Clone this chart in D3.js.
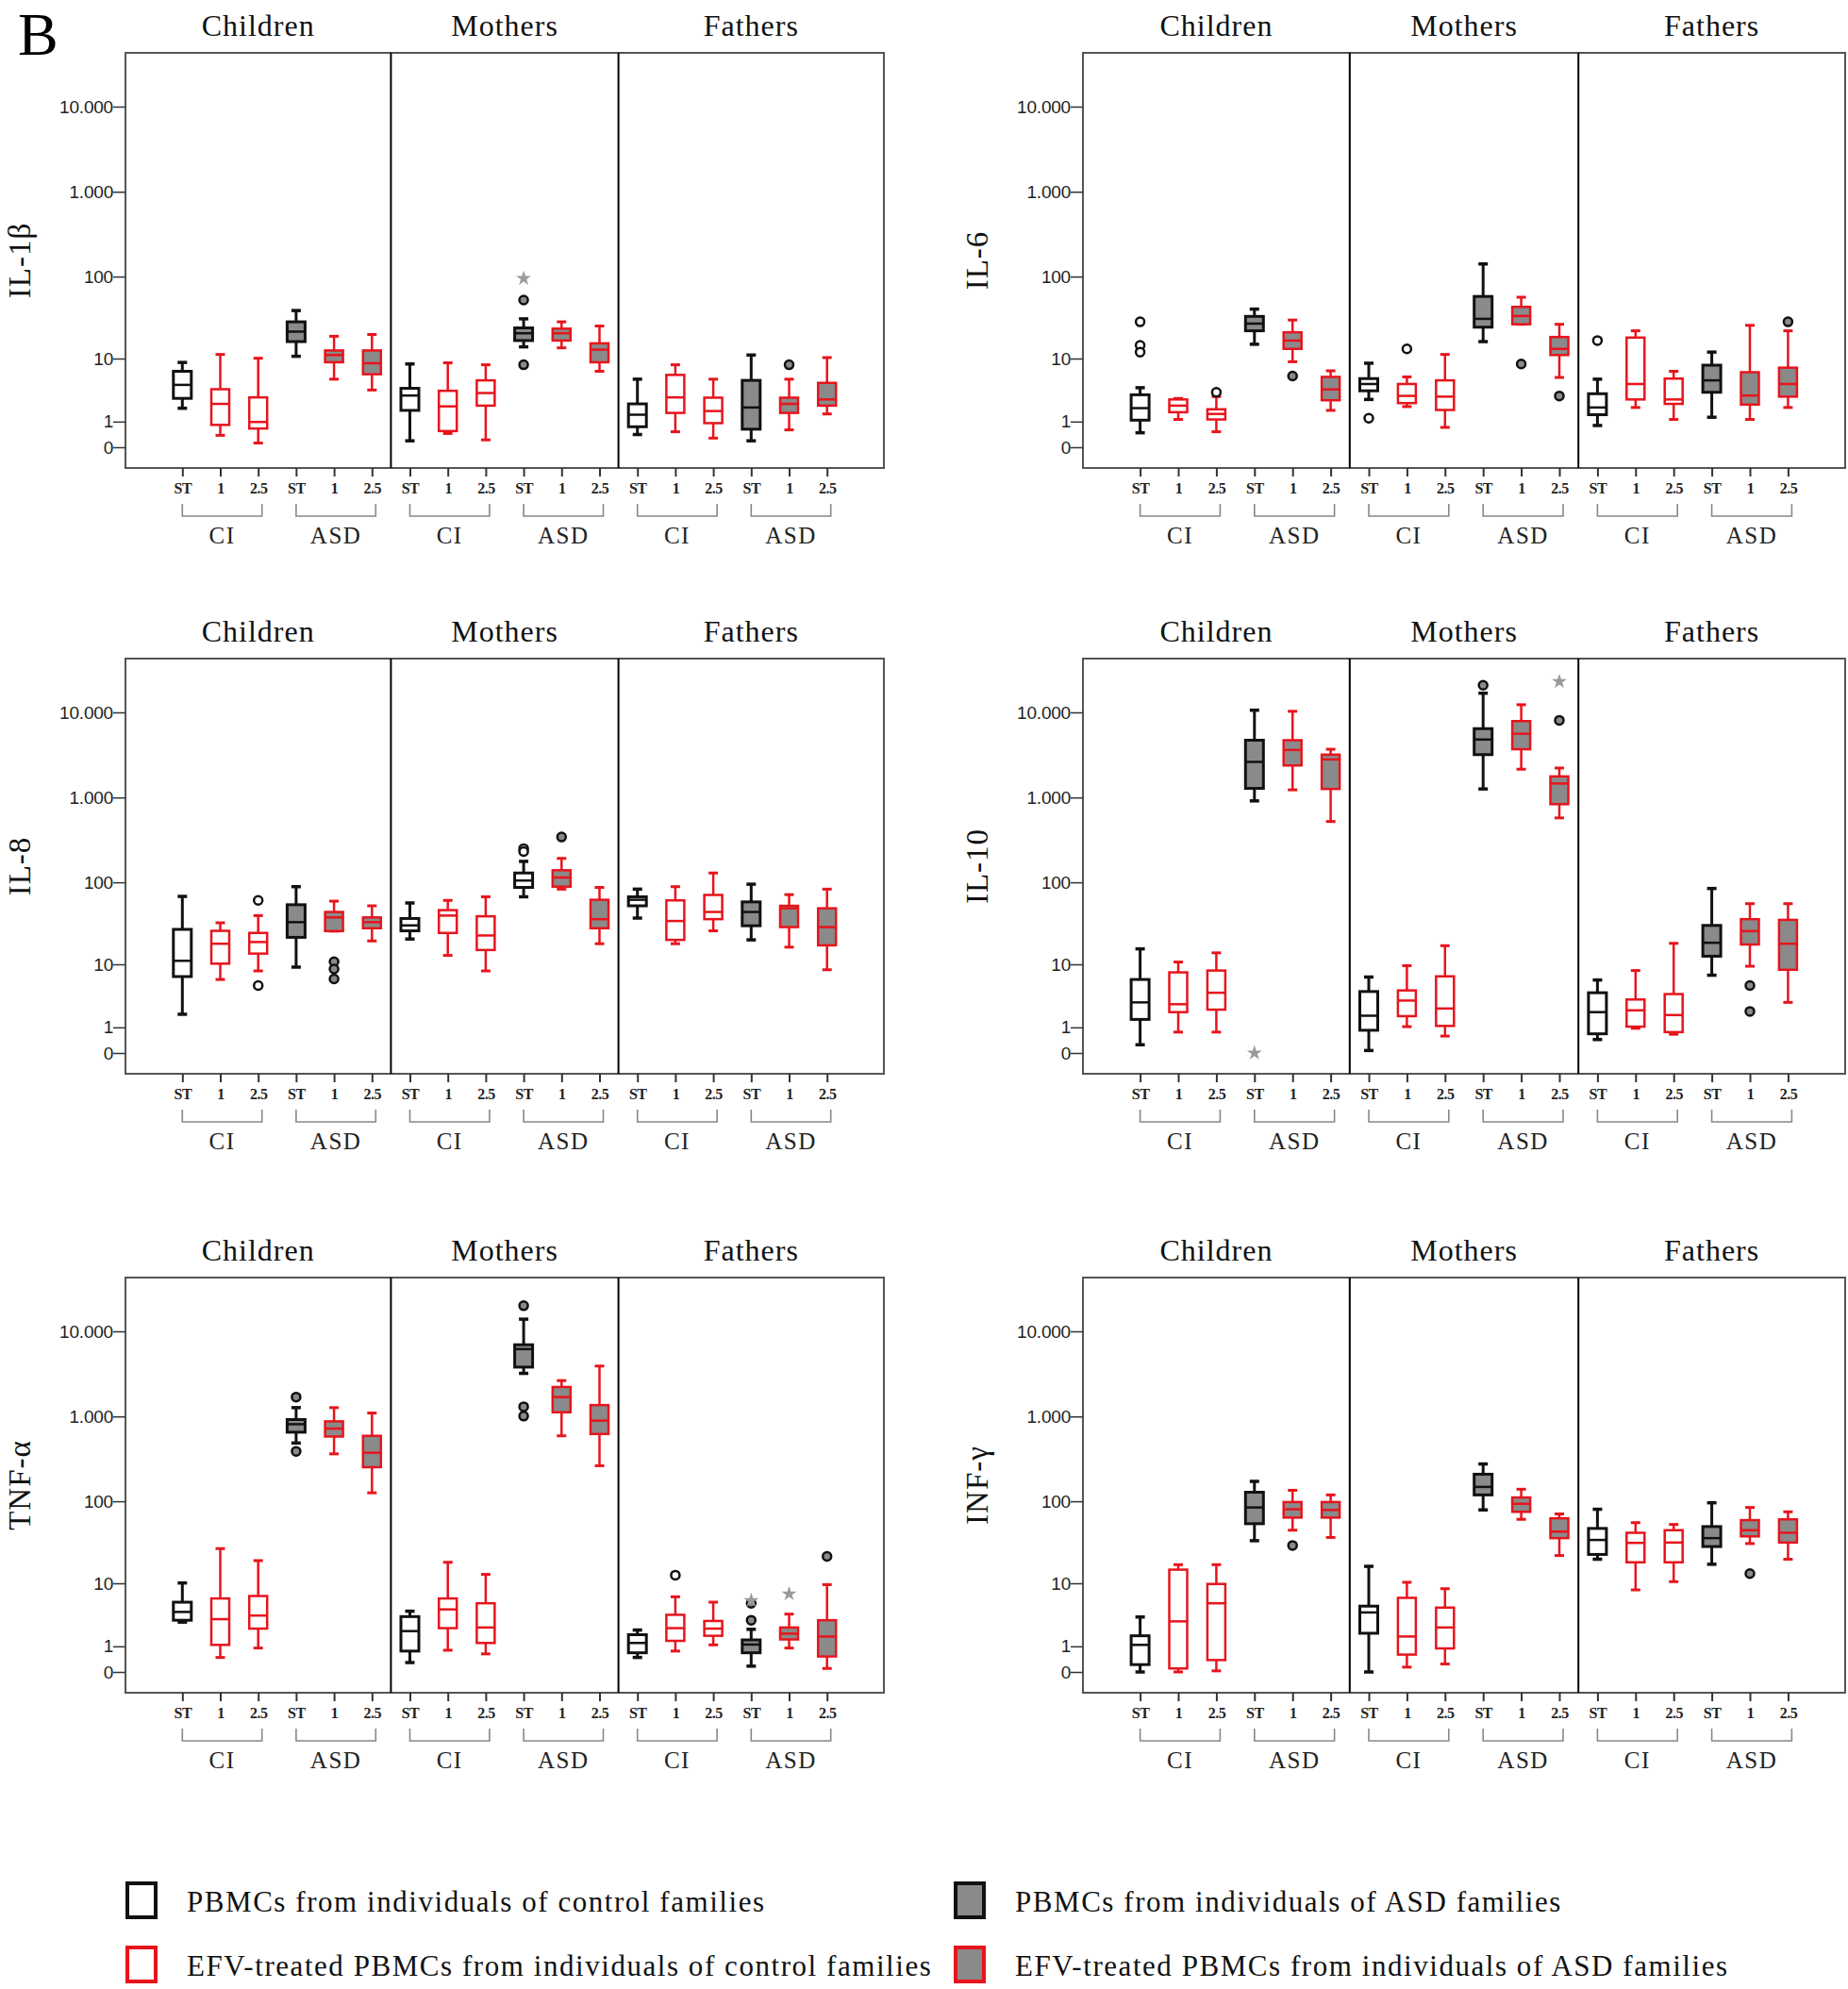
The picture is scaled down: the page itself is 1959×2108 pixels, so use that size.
<!DOCTYPE html>
<html><head><meta charset="utf-8">
<script src="https://cdn.jsdelivr.net/npm/d3@7"></script>
<style>body{margin:0;background:#fff} svg{display:block}</style>
</head><body><svg id="chart" width="1959" height="2108"></svg>
<script>
// ---------- data ----------
const cytokines = ["IL-1β", "IL-6", "IL-8", "IL-10", "TNF-α", "INF-γ"];
const families = ["Children", "Mothers", "Fathers"];
const groups = ["CI", "ASD"];
const treatments = ["ST", "1", "2.5"];
const yTickValues = [0, 1, 10, 100, 1000, 10000];
const yTickLabels = ["0", "1", "10", "100", "1.000", "10.000"];
const legendLabels = [
  "PBMCs from individuals of control families",
  "PBMCs from individuals of ASD families",
  "EFV-treated PBMCs from individuals of control families",
  "EFV-treated PBMCs from individuals of ASD families"
];

// each row: [lower whisker, Q1, median, Q3, upper whisker]; order:
// Children CI ST,1,2.5 | Children ASD ST,1,2.5 | Mothers ... | Fathers ...
const il1b = [
  [1.87, 2.75, 4.4, 6.8, 8.9], [0.38, 0.83, 2.23, 3.8, 11.3], [0.12, 0.66, 0.98, 2.85, 10.1],
  [10.7, 16.4, 21.8, 28.7, 39.3], [5.3, 8.95, 11.1, 12.7, 19.1], [3.7, 6.2, 8.7, 12.7, 20.1],
  [0.19, 1.71, 3.05, 3.92, 8.5], [0.45, 0.55, 2.02, 3.6, 8.8], [0.22, 2.08, 3.33, 5.1, 8.3],
  [14.1, 16.9, 20.8, 24.2, 31.2], [13.7, 16.9, 20.8, 23.7, 28.7], [6.8, 8.95, 13.0, 15.6, 25.5],
  [0.41, 0.74, 1.41, 2.23, 5.3], [0.52, 1.53, 2.85, 6.07, 8.3], [0.28, 0.92, 1.66, 2.82, 5.3],
  [0.19, 0.63, 1.93, 5.1, 11.1], [0.6, 1.53, 2.23, 2.82, 5.3], [1.46, 2.08, 2.64, 4.7, 10.3]
];
const il6 = [
  [0.48, 1.08, 1.88, 3.13, 4.0], [1.12, 1.58, 2.08, 2.64, 2.74], [0.52, 1.12, 1.46, 1.79, 2.93],
  [15.2, 22.3, 27.3, 33.4, 40.9], [9.1, 13.3, 16.9, 21.4, 30.2], [1.71, 2.56, 3.78, 5.7, 6.9],
  [2.64, 3.6, 4.53, 5.4, 8.7], [2.0, 2.3, 3.01, 4.53, 5.7], [0.71, 1.74, 2.93, 5.1, 11.3],
  [16.4, 24.7, 31.2, 58, 141], [26.8, 26.8, 33.8, 43.5, 56.8], [5.6, 11.1, 13.3, 18.7, 26.8],
  [0.8, 1.41, 1.93, 3.25, 5.3], [1.93, 2.64, 4.53, 18.4, 22.3], [1.12, 2.23, 2.64, 5.4, 6.8],
  [1.25, 3.42, 5.1, 8.2, 12.1], [1.12, 2.17, 3.05, 6.6, 26.0], [1.93, 2.93, 4.53, 7.6, 22.3]
];
const il8 = [
  [1.85, 6.9, 11.1, 27.3, 68], [6.3, 10.2, 18.2, 26.2, 32.8], [8.2, 13.7, 19.1, 24.7, 40.1],
  [9.2, 21.8, 33.4, 54.1, 88.8], [26, 26, 38.1, 44.3, 59.7], [19.7, 28.2, 33.4, 38.1, 52.5],
  [20.8, 26.2, 30.5, 37, 56.8], [13.0, 24.7, 40.1, 46.6, 61], [8.2, 15.2, 23, 39.3, 67.3],
  [67.3, 87, 105, 129, 177], [83, 88.8, 114, 139, 192], [18.2, 28.2, 36.3, 62, 87],
  [37.4, 52.5, 62, 67.3, 83], [18.2, 20.3, 34.5, 61, 88.8], [26.2, 36.3, 44.3, 70.8, 129],
  [20.3, 30.2, 44.3, 58.5, 95], [16.5, 29.1, 49, 52.5, 71.4], [8.5, 17.4, 29.1, 49, 83]
];
const il10 = [
  [0.25, 1.48, 2.93, 6.3, 15.7], [0.76, 2.02, 2.74, 7.85, 10.7], [0.76, 2.23, 4.1, 8.3, 14.0],
  [912, 1280, 2620, 4710, 10600], [1230, 2380, 3620, 4710, 10300], [522, 1260, 2800, 3190, 3690],
  [0.07, 0.85, 1.74, 4.27, 6.8], [1.04, 1.71, 3.13, 4.43, 9.6], [0.58, 1.08, 2.33, 6.95, 17.2],
  [1260, 3190, 4800, 6440, 16800], [2150, 3690, 5610, 7900, 12300], [575, 835, 1460, 1770, 2220],
  [0.44, 0.68, 2.02, 4.1, 6.2], [0.95, 1.04, 2.17, 3.25, 8.3], [0.66, 0.76, 1.79, 3.92, 18.4],
  [7.2, 12.7, 18.7, 30.5, 84.5], [9.45, 17.8, 26, 36.3, 55.7], [2.93, 8.5, 18.2, 35.6, 55.7]
];
const tnfa = [
  [2.85, 3.05, 4.07, 5.6, 10.1], [0.48, 1.08, 3.17, 6.3, 27.1], [0.91, 2.23, 3.6, 6.8, 19.3],
  [487, 653, 811, 920, 1270], [363, 581, 720, 876, 1270], [126, 253, 374, 592, 1097],
  [0.29, 0.76, 2.02, 3.47, 4.17], [0.8, 2.27, 4.43, 6.3, 18.4], [0.63, 1.19, 2.33, 5.41, 13.0],
  [3210, 3800, 6190, 6960, 13900], [592, 1120, 1690, 2220, 2640], [263, 622, 893, 1360, 3910],
  [0.48, 0.68, 1.19, 1.74, 2.11], [0.76, 1.32, 2.27, 3.69, 6.64], [1.08, 1.66, 2.23, 2.97, 5.6],
  [0.17, 0.68, 1.1, 1.38, 2.17], [0.91, 1.41, 1.82, 2.33, 3.78], [0.1, 0.52, 1.61, 3.05, 9.6]
];
const infg = [
  [0, 0.22, 1.08, 1.66, 3.42], [0, 0.1, 2.93, 14.9, 17.2], [0.03, 0.38, 5.41, 9.8, 17.2],
  [33.8, 54.1, 84.5, 128, 172], [45.2, 64, 80.4, 98, 135], [37, 64, 78.8, 98, 119],
  [0, 1.85, 4.0, 4.93, 16.4], [0.14, 0.6, 1.61, 6.42, 10.3], [0.24, 0.89, 2.33, 4.7, 8.5],
  [79, 119, 148, 209, 276], [61, 75, 93.4, 111, 139], [22.3, 36.3, 43.5, 62.8, 70.8],
  [20.1, 23, 34.5, 47.5, 80.4], [8.2, 18.4, 31.8, 42.1, 55.7], [10.5, 18.4, 32.1, 45.2, 53],
  [17.4, 28.7, 36.3, 50, 96], [31.2, 38.1, 45.2, 59.7, 84.5], [20.1, 32.1, 42.1, 61, 75]
];

// outliers: [box index, value, kind]  kind "o" = circle, "*" = extreme
const il1bOut = [[9, 52.5, "o"], [9, 8.3, "o"], [9, 95, "*"], [16, 8.3, "o"]];
const il6Out = [[0, 28.7, "o"], [0, 14.7, "o"], [0, 12.1, "o"], [2, 3.42, "o"], [4, 5.87, "o"],
  [6, 1.19, "o"], [7, 13.3, "o"], [10, 8.5, "o"], [11, 3.0, "o"], [12, 16.9, "o"], [17, 28.7, "o"]];
const il8Out = [[2, 61, "o"], [2, 5.2, "o"], [4, 10.8, "o"], [4, 8.7, "o"], [4, 6.4, "o"],
  [9, 250, "o"], [9, 231, "o"], [10, 343, "o"]];
const il10Out = [[3, 0, "*"], [9, 20800, "o"], [11, 8070, "o"], [11, 23000, "*"], [16, 5.2, "o"], [16, 2.08, "o"]];
const tnfaOut = [[3, 1690, "o"], [3, 389, "o"], [9, 20000, "o"], [9, 1300, "o"], [9, 1010, "o"],
  [13, 12.7, "o"], [15, 3.05, "o"], [15, 5.4, "o"], [15, 5.9, "*"], [16, 7.26, "*"], [17, 21.8, "o"]];
const infgOut = [[4, 29.6, "o"], [16, 13.3, "o"]];

// boxes drawn without grey fill although from ASD families: [cytokine, box index]
const unfilledASD = [["IL-8", 9]];

const panelStats = [il1b, il6, il8, il10, tnfa, infg];
const panelOutliers = [il1bOut, il6Out, il8Out, il10Out, tnfaOut, infgOut];

// ---------- layout / style ----------
const svg = d3.select("#chart");
const SERIF = "'Liberation Serif','Times New Roman',serif";
const SANS = "'Liberation Sans',Arial,sans-serif";
const RED = "#e8141c", BLACK = "#111", GREY = "#8a8a8a";
const colX = [[133, 937], [1148, 1956]];
const rowTop = [56, 698, 1354];
const FH = 440;

svg.append("text").attr("x", 19).attr("y", 58).text("B")
  .style("font-family", SERIF).style("font-size", "64px").attr("fill", "#000");

function drawPanel(pi) {
  const col = pi % 2, row = Math.floor(pi / 2);
  const [x0, x1] = colX[col];
  const T = rowTop[row];
  const g = svg.append("g");
  const idx = d3.range(18);
  const x = d3.scalePoint().domain(idx).range([x0, x1]).padding(1.5);
  const step = x.step();
  const y = d3.scaleSymlog().constant(1).domain([0, 10000]).range([T + 418, T + 57]);

  // frame
  g.append("rect").attr("x", x0).attr("y", T).attr("width", x1 - x0).attr("height", FH)
    .attr("fill", "none").attr("stroke", "#555").attr("stroke-width", 2);
  // family dividers
  const divs = [x(5) + step / 2, x(11) + step / 2];
  divs.forEach(d => g.append("line").attr("x1", d).attr("x2", d).attr("y1", T).attr("y2", T + FH)
    .attr("stroke", "#000").attr("stroke-width", 2));
  // family titles
  const edges = [x0, divs[0], divs[1], x1];
  families.forEach((f, k) => g.append("text").attr("x", (edges[k] + edges[k + 1]) / 2).attr("y", T - 18)
    .attr("text-anchor", "middle").text(f)
    .style("font-family", SERIF).style("font-size", "32px").style("letter-spacing", "1px").attr("fill", "#111"));

  // y axis
  const ya = g.append("g").attr("transform", `translate(${x0},0)`)
    .call(d3.axisLeft(y).tickValues(yTickValues).tickFormat((d, i) => yTickLabels[i]).tickSize(13).tickPadding(0));
  ya.select(".domain").remove();
  ya.selectAll("line").attr("stroke", "#333").attr("stroke-width", 1.5);
  ya.selectAll("text").style("font-family", SANS).style("font-size", "19px").style("letter-spacing", "-0.2px")
    .attr("fill", "#222");
  // y label
  g.append("text").attr("transform", `translate(${x0 - 101},${T + FH / 2}) rotate(-90)`)
    .attr("text-anchor", "middle").text(cytokines[pi])
    .style("font-family", SERIF).style("font-size", "33px").style("letter-spacing", "1px").attr("fill", "#111");

  // x axis
  const xa = g.append("g").attr("transform", `translate(0,${T + FH})`)
    .call(d3.axisBottom(x).tickFormat(i => treatments[i % 3]).tickSize(9).tickPadding(6));
  xa.select(".domain").remove();
  xa.selectAll("line").attr("stroke", "#333").attr("stroke-width", 2);
  xa.selectAll("text").attr("dy", "0.75em").style("font-family", SERIF).style("font-weight", "bold")
    .style("font-size", "16px").style("letter-spacing", "-0.5px").attr("fill", "#222");

  // brackets + group labels
  for (let f = 0; f < 3; f++) for (let gr = 0; gr < 2; gr++) {
    const a = x(f * 6 + gr * 3), b = x(f * 6 + gr * 3 + 2) + 4;
    g.append("path").attr("d", `M${a},${T + FH + 38}V${T + FH + 51}H${b}V${T + FH + 38}`)
      .attr("fill", "none").attr("stroke", "#888").attr("stroke-width", 1.6);
    g.append("text").attr("x", (a + b) / 2).attr("y", T + FH + 80).attr("text-anchor", "middle")
      .text(groups[gr]).style("font-family", SERIF).style("font-size", "25px").style("letter-spacing", "1.5px")
      .attr("fill", "#222");
  }

  // boxes
  const stats = panelStats[pi];
  const fillOf = i => {
    const asd = Math.floor((i % 6) / 3) === 1;
    const skip = unfilledASD.some(u => u[0] === cytokines[pi] && u[1] === i);
    return asd && !skip ? GREY : "#fff";
  };
  const colorOf = i => (i % 3 === 0 ? BLACK : RED);
  const BW = 19, CW = 10;
  const boxes = g.selectAll(".box").data(stats).join("g").attr("class", "box");
  boxes.each(function (s, i) {
    const bx = d3.select(this), cx = x(i), c = colorOf(i), sw = i % 3 === 0 ? 3 : 2.5;
    const [lo, q1, md, q3, hi] = s;
    bx.append("line").attr("x1", cx).attr("x2", cx).attr("y1", y(lo)).attr("y2", y(q1))
      .attr("stroke", c).attr("stroke-width", sw);
    bx.append("line").attr("x1", cx).attr("x2", cx).attr("y1", y(q3)).attr("y2", y(hi))
      .attr("stroke", c).attr("stroke-width", sw);
    [lo, hi].forEach(v => bx.append("line").attr("x1", cx - CW / 2).attr("x2", cx + CW / 2)
      .attr("y1", y(v)).attr("y2", y(v)).attr("stroke", c).attr("stroke-width", sw + 0.5));
    bx.append("rect").attr("x", cx - BW / 2).attr("y", y(q3)).attr("width", BW)
      .attr("height", Math.max(1, y(q1) - y(q3))).attr("fill", fillOf(i)).attr("stroke", c).attr("stroke-width", sw);
    bx.append("line").attr("x1", cx - BW / 2).attr("x2", cx + BW / 2).attr("y1", y(md)).attr("y2", y(md))
      .attr("stroke", c).attr("stroke-width", 2.5);
  });

  // outliers
  const outs = panelOutliers[pi];
  g.selectAll(".circ").data(outs.filter(o => o[2] === "o")).join("circle").attr("class", "circ")
    .attr("cx", o => x(o[0])).attr("cy", o => y(o[1])).attr("r", 4.5)
    .attr("fill", o => fillOf(o[0])).attr("stroke", "#111").attr("stroke-width", 2.5);
  g.selectAll(".star").data(outs.filter(o => o[2] === "*")).join("path").attr("class", "star")
    .attr("transform", o => `translate(${x(o[0])},${y(o[1])})`)
    .attr("d", d3.symbol(d3.symbolStar, 80)).attr("fill", "#9a9a9a");
}
d3.range(6).forEach(drawPanel);

// ---------- legend ----------
const legendItems = [
  { stroke: BLACK, fill: "#fff", col: 0, row: 0 },
  { stroke: BLACK, fill: GREY, col: 1, row: 0 },
  { stroke: RED, fill: "#fff", col: 0, row: 1 },
  { stroke: RED, fill: GREY, col: 1, row: 1 }
];
const legX = [135, 1013], legY = [1996, 2064];
legendItems.forEach((it, k) => {
  const lx = legX[it.col], ly = legY[it.row];
  svg.append("rect").attr("x", lx).attr("y", ly).attr("width", 30).attr("height", 36)
    .attr("fill", it.fill).attr("stroke", it.stroke).attr("stroke-width", 4);
  svg.append("text").attr("x", lx + 63).attr("y", ly + 30).text(legendLabels[k])
    .style("font-family", SERIF).style("font-size", "31px").style("letter-spacing", "1.55px").attr("fill", "#111");
});
</script></body></html>
